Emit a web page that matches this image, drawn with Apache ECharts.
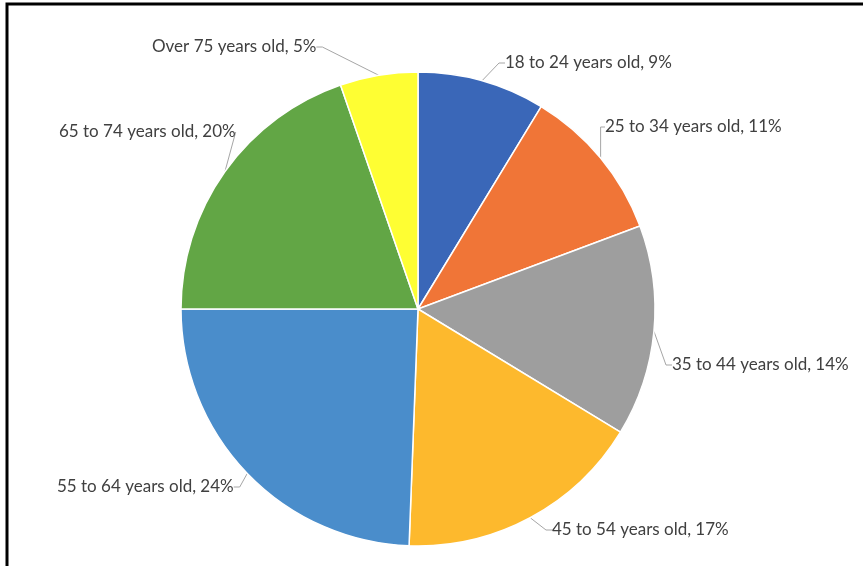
<!DOCTYPE html>
<html>
<head>
<meta charset="utf-8">
<script src="https://cdn.jsdelivr.net/npm/echarts@6/dist/echarts.min.js"></script>
<style>
  html, body { margin: 0; padding: 0; background: #fff; }
  #chart { width: 863px; height: 566px; }
</style>
</head>
<body>
<div id="chart"></div>
<script>
const categories = ['18 to 24 years old', '25 to 34 years old', '35 to 44 years old', '45 to 54 years old',
  '55 to 64 years old', '65 to 74 years old', 'Over 75 years old']
// shares; labels show them rounded
const values = [8.7, 10.6, 14.4, 16.9, 24.4, 19.7, 5.3]
const colors = ['#3A67B8', '#F07537', '#9E9E9E', '#FDB92D', '#4A8DCB', '#62A645', '#FEFE33']

// where each label's left/middle point sits (Excel-style placement)
const labelPos = [[505, 63], [605, 127], [672, 365], [552, 530], [57, 487], [59, 132], [152, 47]]

const chart = echarts.init(document.getElementById('chart'))
chart.setOption({
  animation: false,
  backgroundColor: '#fff',
  graphic: [{
    type: 'rect',
    shape: { x: 7, y: 4, width: 900, height: 600 },
    style: { fill: 'none', stroke: '#000', lineWidth: 3 }
  }],
  series: [{
    type: 'pie',
    center: [418, 309],
    radius: 237,
    startAngle: 90,
    clockwise: true,
    data: categories.map((name, i) => ({ name, value: values[i], itemStyle: { color: colors[i] } })),
    itemStyle: { borderColor: '#fff', borderWidth: 1.5 },
    label: {
      show: true,
      formatter: p => p.name + ', ' + Math.round(p.value) + '%',
      fontFamily: 'Lato',
      fontSize: 17,
      color: '#404040'
    },
    labelLine: {
      show: true,
      length: 8,
      length2: 6,
      lineStyle: { color: '#A6A6A6', width: 1 }
    },
    labelLayout: params => {
      const pos = labelPos[params.dataIndex]
      return { x: pos[0], y: pos[1], align: 'left', verticalAlign: 'middle' }
    }
  }]
})
</script>
</body>
</html>
